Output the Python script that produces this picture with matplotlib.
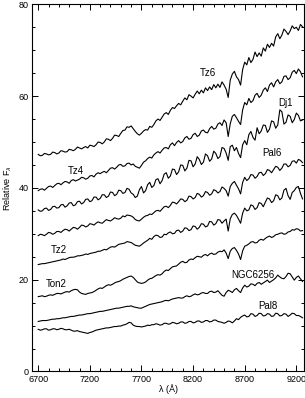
import matplotlib
matplotlib.use('Agg')
import matplotlib.pyplot as plt
from matplotlib.ticker import MultipleLocator
import numpy as np

plt.rcParams['font.family'] = ['Liberation Sans', 'DejaVu Sans']

# wavelength grid (Angstrom), one value per 20 A, 6700 ... 9260
wave = np.arange(6700, 9261, 20)

# relative fluxes, top spectrum first
# (each row of ten covers 200 A)
tz6 = [47.3, 47.0, 47.1, 47.5, 47.4, 47.2, 47.3, 47.8, 47.7, 47.4,
       47.6, 48.1, 48.0, 47.8, 47.9, 48.4, 48.3, 48.1, 48.4, 48.9,
       48.7, 48.5, 48.8, 49.0, 48.7, 49.3, 49.2, 49.0, 49.4, 50.0,
       49.9, 49.6, 50.0, 50.7, 50.6, 50.3, 50.8, 51.5, 51.4, 51.2,
       51.9, 52.5, 52.6, 53.3, 53.2, 53.5, 52.9, 52.3, 51.8, 51.5,
       51.9, 52.4, 52.7, 52.6, 53.4, 53.2, 53.8, 54.6, 55.0, 54.7,
       55.4, 56.1, 56.4, 56.0, 56.9, 57.5, 57.3, 57.9, 58.4, 58.1,
       58.9, 59.6, 59.2, 60.3, 60.0, 59.6, 60.4, 61.1, 60.5, 61.3,
       60.7, 61.8, 61.2, 62.0, 61.4, 62.5, 61.8, 62.6, 61.9, 63.1,
       62.4, 61.5, 59.7, 63.5, 64.8, 65.4, 64.2, 63.6, 62.4, 65.8,
       67.4, 66.8, 68.4, 67.3, 68.0, 69.6, 68.6, 69.4, 68.7, 70.5,
       69.8, 71.3, 70.6, 71.5, 70.9, 72.9, 73.6, 72.5, 73.3, 74.6,
       74.1, 73.4, 74.2, 75.3, 74.7, 75.0, 74.3, 75.6, 75.1]
tz4 = [39.4, 39.7, 39.8, 39.5, 39.9, 40.3, 40.4, 40.1, 40.5, 40.9,
       41.0, 40.7, 41.1, 41.4, 41.3, 41.0, 41.6, 41.8, 41.5, 41.7,
       41.9, 42.3, 42.2, 41.9, 42.1, 42.6, 42.7, 42.4, 43.0, 43.3,
       43.1, 43.4, 43.6, 43.3, 43.8, 44.3, 44.4, 44.1, 44.5, 45.0,
       45.1, 44.7, 44.8, 45.3, 45.4, 45.0, 45.2, 44.7, 44.5, 44.3,
       44.9, 45.6, 45.9, 46.4, 46.7, 46.5, 47.2, 47.6, 47.9, 47.6,
       48.2, 48.7, 48.8, 48.5, 49.4, 49.8, 49.2, 49.9, 50.3, 49.8,
       50.1, 50.9, 51.2, 50.6, 50.8, 51.6, 51.9, 51.2, 51.5, 52.4,
       52.6, 52.1, 52.0, 52.9, 53.4, 52.8, 53.0, 53.9, 54.2, 53.6,
       54.8, 54.2, 51.2, 54.0, 55.6, 56.0, 55.3, 54.5, 53.8, 57.0,
       58.6, 58.1, 59.5, 58.6, 59.0, 60.2, 60.6, 59.7, 60.2, 61.3,
       61.8, 61.0, 62.4, 62.9, 62.0, 63.1, 63.6, 62.7, 63.1, 64.3,
       64.4, 63.6, 64.0, 65.2, 65.6, 64.9, 65.9, 65.3, 64.2]
dj1 = [35.2, 34.9, 35.0, 35.5, 35.6, 35.1, 35.3, 35.9, 36.0, 35.6,
       35.7, 36.3, 36.4, 35.8, 36.1, 36.7, 36.8, 36.1, 36.3, 37.0,
       37.1, 36.5, 36.8, 37.5, 37.6, 37.0, 37.2, 38.0, 38.0, 37.4,
       37.7, 38.5, 38.5, 37.9, 38.2, 39.1, 39.0, 38.3, 38.6, 39.5,
       39.4, 38.8, 39.0, 39.9, 39.7, 38.9, 38.6, 37.9, 38.2, 39.6,
       40.3, 38.9, 39.4, 40.7, 41.2, 40.1, 40.5, 41.8, 42.0, 40.9,
       41.6, 43.0, 43.3, 42.1, 42.6, 44.1, 44.0, 42.9, 43.5, 45.0,
       44.9, 43.7, 44.3, 46.0, 45.9, 44.6, 45.2, 46.8, 46.2, 45.1,
       45.6, 47.4, 47.0, 45.8, 46.3, 48.0, 47.5, 46.4, 46.8, 48.8,
       48.6, 47.6, 46.0, 49.0, 49.3, 48.1, 48.8, 47.5, 46.6, 49.4,
       50.3, 49.4, 51.6, 52.3, 51.0, 50.4, 53.1, 51.8, 52.4, 53.7,
       53.6, 52.1, 52.8, 54.6, 54.4, 53.0, 53.7, 57.0, 56.6, 53.9,
       54.3, 55.9, 55.6, 54.2, 54.9, 56.3, 55.8, 54.6, 54.8]
pal6 = [29.6, 29.9, 29.8, 29.6, 29.9, 30.3, 30.2, 29.9, 30.1, 30.5,
        30.5, 30.3, 30.7, 31.0, 30.9, 30.6, 31.0, 31.4, 31.3, 31.0,
        31.4, 31.9, 31.8, 31.5, 31.7, 32.2, 32.1, 31.9, 32.3, 32.6,
        32.4, 32.3, 32.7, 33.1, 32.9, 32.8, 33.1, 33.5, 33.3, 33.2,
        33.4, 33.9, 33.7, 34.1, 34.0, 33.9, 33.6, 33.1, 32.9, 32.8,
        33.2, 33.6, 33.9, 34.0, 34.3, 34.2, 34.6, 35.0, 35.1, 34.9,
        35.4, 35.9, 36.0, 35.7, 36.2, 36.9, 36.8, 36.5, 37.0, 37.6,
        37.5, 37.0, 37.3, 38.2, 38.1, 37.6, 37.9, 38.8, 38.6, 38.0,
        38.3, 39.2, 39.0, 38.4, 38.7, 39.6, 39.4, 38.9, 39.2, 40.2,
        39.9, 39.4, 38.2, 40.3, 41.0, 41.4, 40.6, 39.8, 38.7, 41.2,
        42.3, 41.6, 42.0, 42.9, 42.8, 42.1, 42.5, 43.3, 43.4, 42.7,
        43.1, 44.0, 43.8, 43.3, 44.0, 44.7, 44.5, 43.8, 44.3, 45.2,
        45.2, 44.6, 44.9, 45.8, 45.9, 45.4, 46.2, 46.0, 45.5]
tz2 = [23.3, 23.4, 23.5, 23.5, 23.6, 23.7, 23.8, 23.9, 24.0, 24.1,
       24.2, 24.3, 24.5, 24.4, 24.6, 24.8, 24.9, 24.9, 25.0, 25.2,
       25.2, 25.3, 25.4, 25.6, 25.5, 25.7, 25.8, 25.9, 26.0, 26.2,
       26.2, 26.4, 26.6, 26.5, 26.8, 27.1, 27.2, 27.1, 27.4, 27.7,
       27.8, 27.9, 28.0, 28.3, 28.2, 28.1, 27.8, 27.5, 27.4, 27.3,
       27.6, 28.0, 28.3, 28.6, 29.0, 28.8, 29.4, 29.7, 29.6, 29.2,
       29.3, 29.9, 29.8, 30.2, 30.4, 30.0, 30.1, 30.7, 30.8, 30.3,
       30.6, 31.3, 31.2, 30.7, 30.9, 31.7, 31.6, 31.0, 31.4, 32.2,
       32.1, 31.5, 31.7, 32.7, 32.6, 31.9, 32.2, 33.1, 33.0, 32.3,
       32.8, 33.2, 30.6, 33.3, 34.2, 34.5, 34.0, 33.2, 32.3, 34.5,
       35.6, 35.0, 35.2, 36.3, 36.1, 35.3, 35.7, 36.8, 36.6, 35.9,
       36.9, 37.8, 37.6, 36.8, 37.2, 38.5, 38.3, 37.4, 37.8, 39.5,
       39.9, 38.3, 37.5, 39.0, 39.4, 40.1, 40.3, 38.8, 37.6]
ton2 = [16.3, 16.4, 16.5, 16.3, 16.4, 16.6, 16.7, 16.6, 16.8, 17.0,
        17.0, 16.9, 17.1, 17.3, 17.4, 17.3, 17.6, 17.8, 17.9, 17.8,
        17.3, 17.0, 16.9, 16.8, 17.0, 17.1, 17.2, 17.4, 17.7, 18.0,
        18.2, 18.1, 18.4, 18.7, 18.9, 18.8, 19.0, 19.3, 19.5, 19.6,
        19.8, 20.1, 20.3, 20.5, 20.7, 20.8, 20.5, 20.0, 19.5, 19.3,
        19.2, 19.3, 19.5, 19.9, 20.2, 20.3, 20.6, 20.9, 21.1, 21.0,
        21.3, 21.8, 22.1, 22.0, 22.4, 22.8, 22.9, 23.0, 23.4, 23.8,
        24.0, 23.7, 23.8, 24.3, 24.5, 24.4, 24.8, 25.1, 25.0, 24.9,
        25.3, 25.5, 25.2, 25.6, 25.8, 25.5, 25.6, 26.0, 26.2, 26.1,
        26.5, 25.8, 24.6, 26.2, 26.8, 27.0, 26.4, 25.6, 24.4, 26.3,
        27.3, 27.5, 27.8, 28.2, 28.3, 28.0, 28.1, 28.6, 28.8, 28.6,
        29.0, 29.3, 29.5, 29.2, 29.4, 29.8, 29.9, 30.1, 30.2, 29.9,
        30.0, 30.4, 30.5, 30.9, 30.8, 31.1, 31.0, 30.6, 30.7]
ngc6256 = [10.9, 11.0, 11.1, 11.1, 11.1, 11.2, 11.3, 11.4, 11.4, 11.5,
           11.5, 11.6, 11.7, 11.7, 11.8, 11.9, 12.0, 12.0, 12.1, 12.2,
           12.3, 12.3, 12.4, 12.5, 12.6, 12.6, 12.7, 12.8, 12.9, 13.0,
           13.1, 13.1, 13.2, 13.3, 13.4, 13.5, 13.6, 13.7, 13.8, 13.8,
           13.9, 14.0, 14.1, 14.2, 14.2, 14.3, 14.1, 14.0, 13.9, 13.8,
           13.8, 14.0, 14.2, 14.4, 14.6, 14.7, 14.8, 14.9, 15.0, 15.1,
           15.2, 15.4, 15.5, 15.4, 15.6, 15.8, 15.9, 16.0, 16.1, 16.0,
           16.0, 16.3, 16.5, 16.3, 16.4, 16.7, 16.9, 16.7, 16.8, 17.1,
           17.2, 17.0, 17.0, 17.4, 17.5, 17.2, 17.3, 17.6, 17.1, 16.6,
           16.4, 17.2, 17.7, 17.5, 17.2, 17.8, 18.1, 17.6, 17.2, 18.2,
           18.8, 18.4, 18.6, 19.1, 19.0, 18.7, 19.2, 19.4, 19.0, 19.3,
           19.6, 19.9, 19.4, 19.7, 20.0, 20.4, 21.0, 20.6, 20.3, 20.2,
           20.7, 21.4, 21.3, 20.6, 19.9, 20.5, 20.8, 20.2, 19.6]
pal8 = [9.2, 9.0, 9.1, 9.3, 9.3, 9.0, 9.1, 9.3, 9.3, 9.1,
        9.2, 9.4, 9.3, 9.1, 9.1, 9.2, 9.0, 8.8, 8.8, 8.9,
        8.7, 8.6, 8.5, 8.4, 8.3, 8.5, 8.6, 8.8, 9.0, 9.1,
        9.2, 9.3, 9.4, 9.5, 9.5, 9.6, 9.7, 9.8, 9.8, 9.9,
        9.9, 10.1, 10.2, 10.4, 10.7, 10.6, 10.1, 9.9, 9.8, 9.8,
        9.7, 9.8, 9.9, 10.1, 10.0, 10.2, 10.2, 10.4, 10.3, 10.1,
        10.2, 10.5, 10.5, 10.3, 10.4, 10.7, 10.6, 10.4, 10.5, 10.8,
        10.8, 10.5, 10.6, 10.9, 10.9, 10.6, 10.7, 11.0, 11.0, 10.7,
        10.8, 11.1, 11.1, 10.8, 10.9, 11.2, 11.2, 10.9, 10.8, 10.7,
        10.5, 10.7, 11.0, 10.9, 10.6, 11.0, 11.5, 11.3, 11.8, 12.1,
        12.3, 11.9, 12.0, 12.6, 12.5, 12.0, 12.2, 12.7, 12.6, 12.1,
        12.2, 12.6, 12.5, 12.0, 12.1, 12.7, 12.6, 12.1, 12.2, 12.6,
        12.5, 12.0, 12.3, 12.7, 12.6, 12.2, 12.2, 12.0, 11.7]

spectra = [tz6, tz4, dj1, pal6, tz2, ton2, ngc6256, pal8]

# cluster names and where they are written (wavelength, flux)
names = ['Tz6', 'Tz4', 'Dj1', 'Pal6', 'Tz2', 'Ton2', 'NGC6256', 'Pal8']
name_wave = [8340, 7060, 9095, 8965, 6900, 6870, 8780, 8920]
name_flux = [65.0, 43.6, 58.5, 47.7, 26.5, 19.1, 21.0, 14.2]

fig = plt.figure(figsize=(3.05, 3.98), dpi=100)
ax = fig.add_axes([0.105, 0.0666, 0.892, 0.9226])

for flux in spectra:
    ax.plot(wave, flux, color='black', lw=0.8)

for name, x, y in zip(names, name_wave, name_flux):
    ax.text(x, y, name, fontsize=7, ha='center', va='center')

ax.set_xlim(6640, 9275)
ax.set_ylim(0, 80)
ax.set_xticks([6700, 7200, 7700, 8200, 8700, 9200])
ax.xaxis.set_minor_locator(MultipleLocator(100))
ax.yaxis.set_major_locator(MultipleLocator(20))
ax.yaxis.set_minor_locator(MultipleLocator(5))
ax.tick_params(which='both', direction='in', top=True, right=True,
               labelsize=6.5, width=0.7)
ax.tick_params(which='major', length=4, pad=2.5)
ax.tick_params(which='minor', length=2)
for sp in ax.spines.values():
    sp.set_linewidth(0.8)

ax.set_xlabel('λ (Å)', fontsize=6.5, labelpad=0.5)
ax.set_ylabel(r'Relative F$_\lambda$', fontsize=6.5, labelpad=3)

fig.savefig('out.png', dpi=100)
